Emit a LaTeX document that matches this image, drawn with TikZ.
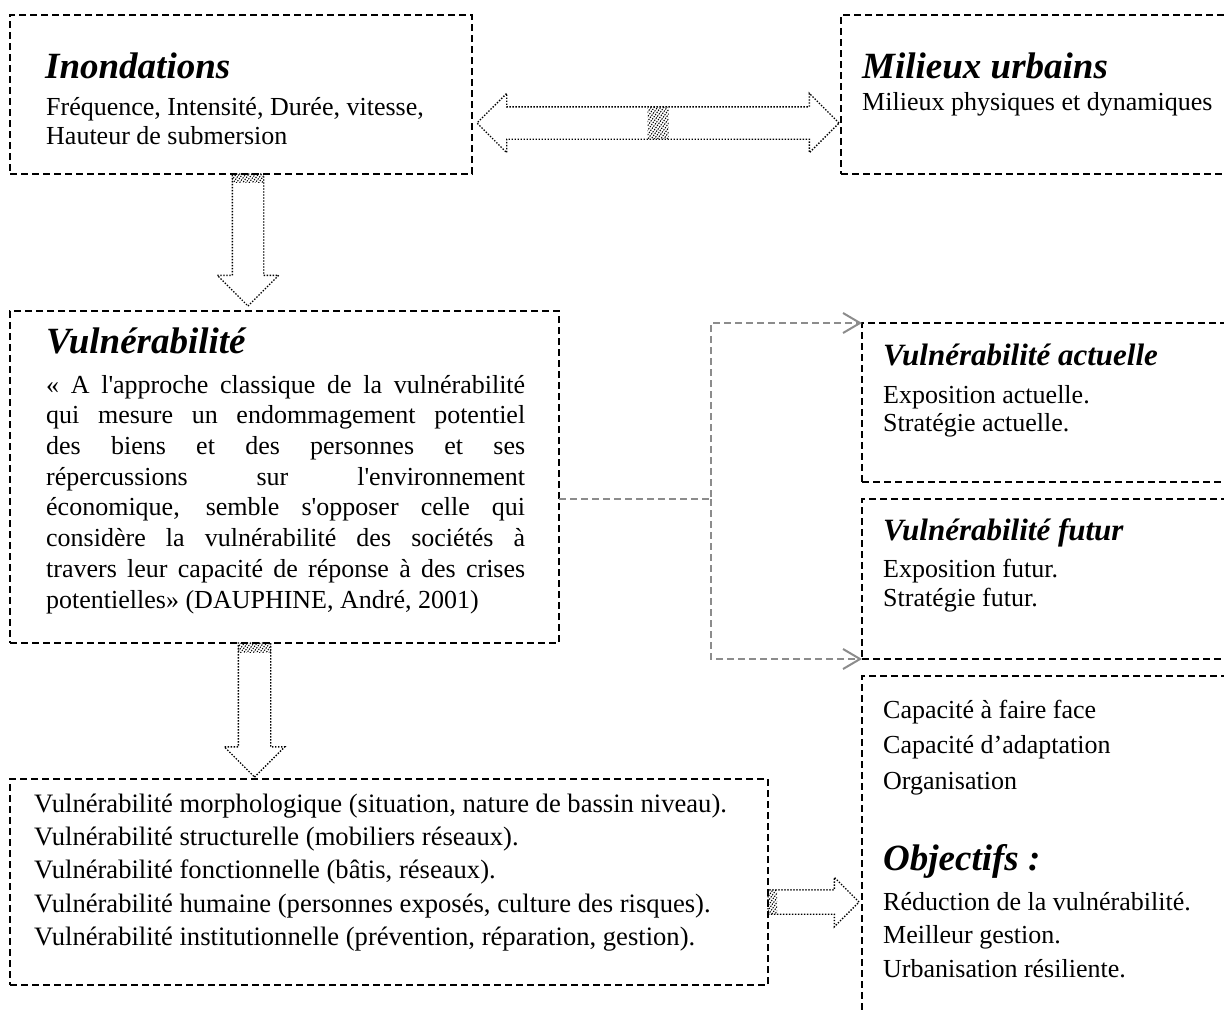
\documentclass[tikz,border=0pt]{standalone}
\usepackage{fontspec}
\setmainfont{Liberation Serif}[Ligatures=TeXOff]
\usetikzlibrary{shapes.arrows,arrows.meta,patterns.meta}
\definecolor{connGray}{HTML}{8C8C8C}

\tikzset{
  box/.style={draw, line width=2pt, dash pattern=on 7pt off 4pt, rectangle,
    inner sep=0pt, outer sep=0pt, anchor=north west},
  blockarrow/.style={draw, line width=1.4pt, dash pattern=on 1.4pt off 1.6pt,
    outer sep=0pt},
  hatch/.style={pattern={Lines[angle=55,distance=2.6pt,line width=1pt]}},
  conn/.style={draw=connGray, line width=2pt, dash pattern=on 7pt off 4pt,
    -{Straight Barb[length=17pt,width=20pt]}},
  bighead/.style={anchor=base west, inner sep=0pt,
    font=\fontsize{37}{40}\selectfont\bfseries\itshape},
  subhead/.style={anchor=base west, inner sep=0pt,
    font=\fontsize{31}{34}\selectfont\bfseries\itshape},
  body/.style={anchor=base west, inner sep=0pt,
    font=\fontsize{26}{30}\selectfont},
  bodywide/.style={anchor=base west, inner sep=0pt,
    font=\fontsize{26.6}{30}\selectfont},
}

\begin{document}
\begin{tikzpicture}[x=1pt,y=-1pt]
\useasboundingbox (0,0) rectangle (1224,1010);

% --- boxes
\node[box, minimum width=462pt, minimum height=159pt] (inond)  at (10,15)  {};
\node[box, minimum width=420pt, minimum height=159pt] (milieu) at (841,15) {};
\node[box, minimum width=549pt, minimum height=332pt] (vul)    at (10,311) {};
\node[box, minimum width=758pt, minimum height=206pt] (typo)   at (10,779) {};
\node[box, minimum width=400pt, minimum height=159pt] (actA)   at (862,323) {};
\node[box, minimum width=400pt, minimum height=160pt] (actB)   at (862,499) {};
\node[box, minimum width=400pt, minimum height=380pt] (obj)    at (862,676) {};

% --- block arrows (shaft width = 2 x inner sep)
\node[blockarrow, double arrow, inner sep=15.5pt, minimum height=362pt,
  double arrow head extend=13.5pt,
  path picture={\fill[hatch] ([xshift=-10.5pt]path picture bounding box.north)
    rectangle ([xshift=10.5pt]path picture bounding box.south);}]
  (dbl) at (658,123) {};
\node[blockarrow, single arrow, shape border rotate=270, inner sep=15pt,
  minimum height=132pt, single arrow head extend=15pt, anchor=tail,
  path picture={\fill[hatch] (path picture bounding box.north west)
    rectangle ([yshift=-8pt]path picture bounding box.north east);}]
  (down1) at (inond.south -| 248,0) {};
\node[blockarrow, single arrow, shape border rotate=270, inner sep=15.5pt,
  minimum height=134pt, single arrow head extend=14pt, anchor=tail,
  path picture={\fill[hatch] (path picture bounding box.north west)
    rectangle ([yshift=-9pt]path picture bounding box.north east);}]
  (down2) at (vul.south -| 254.5,0) {};
\node[blockarrow, single arrow, inner sep=11.5pt, minimum height=91pt,
  single arrow head extend=12.5pt, anchor=tail,
  path picture={\fill[hatch] (path picture bounding box.south west)
    rectangle ([xshift=9pt]path picture bounding box.north west);}]
  (right) at (typo.east |- 0,902) {};

% --- dashed grey connector
\coordinate (split) at (711,499);
\draw[conn] (vul.east |- split) -- (split) |- (actA.north west);
\draw[conn] (split) |- (actB.south west);

% --- Inondations
\node[bighead] (tInond) at (45,78) {Inondations};
\node[body] (tInond1) at (46,115) {Fréquence, Intensité, Durée, vitesse,};
\node[body] (tInond2) at (46,144) {Hauteur de submersion};

% --- Milieux urbains
\node[bighead] (tMil) at (862,78) {Milieux urbains};
\node[body] (tMil1) at (862,110) {Milieux physiques et dynamiques};

% --- Vulnérabilité
\node[bighead] (tVul) at (46,353) {Vulnérabilité};
\foreach \t [count=\i] in {
  {« A l'approche classique de la vulnérabilité},
  {qui mesure un endommagement potentiel},
  {des biens et des personnes et ses},
  {répercussions sur l'environnement},
  {économique, semble s'opposer celle qui},
  {considère la vulnérabilité des sociétés à},
  {travers leur capacité de réponse à des crises}}
  \node[body] (q\i) at (46,{393+30.7*(\i-1)}) {\makebox[479pt][s]{\t}};
\node[body] (q8) at (46,608) {potentielles» (DAUPHINE, André, 2001)};

% --- types of vulnerability
\node[bodywide] (v1) at (34,812) {Vulnérabilité morphologique (situation, nature de bassin niveau).};
\node[bodywide] (v2) at (34,845) {Vulnérabilité structurelle (mobiliers réseaux).};
\node[bodywide] (v3) at (34,878) {Vulnérabilité fonctionnelle (bâtis, réseaux).};
\node[bodywide] (v4) at (34,912) {Vulnérabilité humaine (personnes exposés, culture des risques).};
\node[bodywide] (v5) at (34,945) {Vulnérabilité institutionnelle (prévention, réparation, gestion).};

% --- current / future vulnerability
\node[subhead] (tA) at (883,365) {Vulnérabilité actuelle};
\node[body] (tA1) at (883,403) {Exposition actuelle.};
\node[body] (tA2) at (883,431) {Stratégie actuelle.};
\node[subhead] (tB) at (883,540) {Vulnérabilité futur};
\node[body] (tB1) at (883,577) {Exposition futur.};
\node[body] (tB2) at (883,606) {Stratégie futur.};

% --- capacities and objectives
\node[body] (c1) at (883,718) {Capacité à faire face};
\node[body] (c2) at (883,753) {Capacité d’adaptation};
\node[body] (c3) at (883,789) {Organisation};
\node[bighead] (tObj) at (883,870) {Objectifs :};
\node[body] (o1) at (883,910) {Réduction de la vulnérabilité.};
\node[body] (o2) at (883,943) {Meilleur gestion.};
\node[body] (o3) at (883,977) {Urbanisation résiliente.};
\end{tikzpicture}
\end{document}
